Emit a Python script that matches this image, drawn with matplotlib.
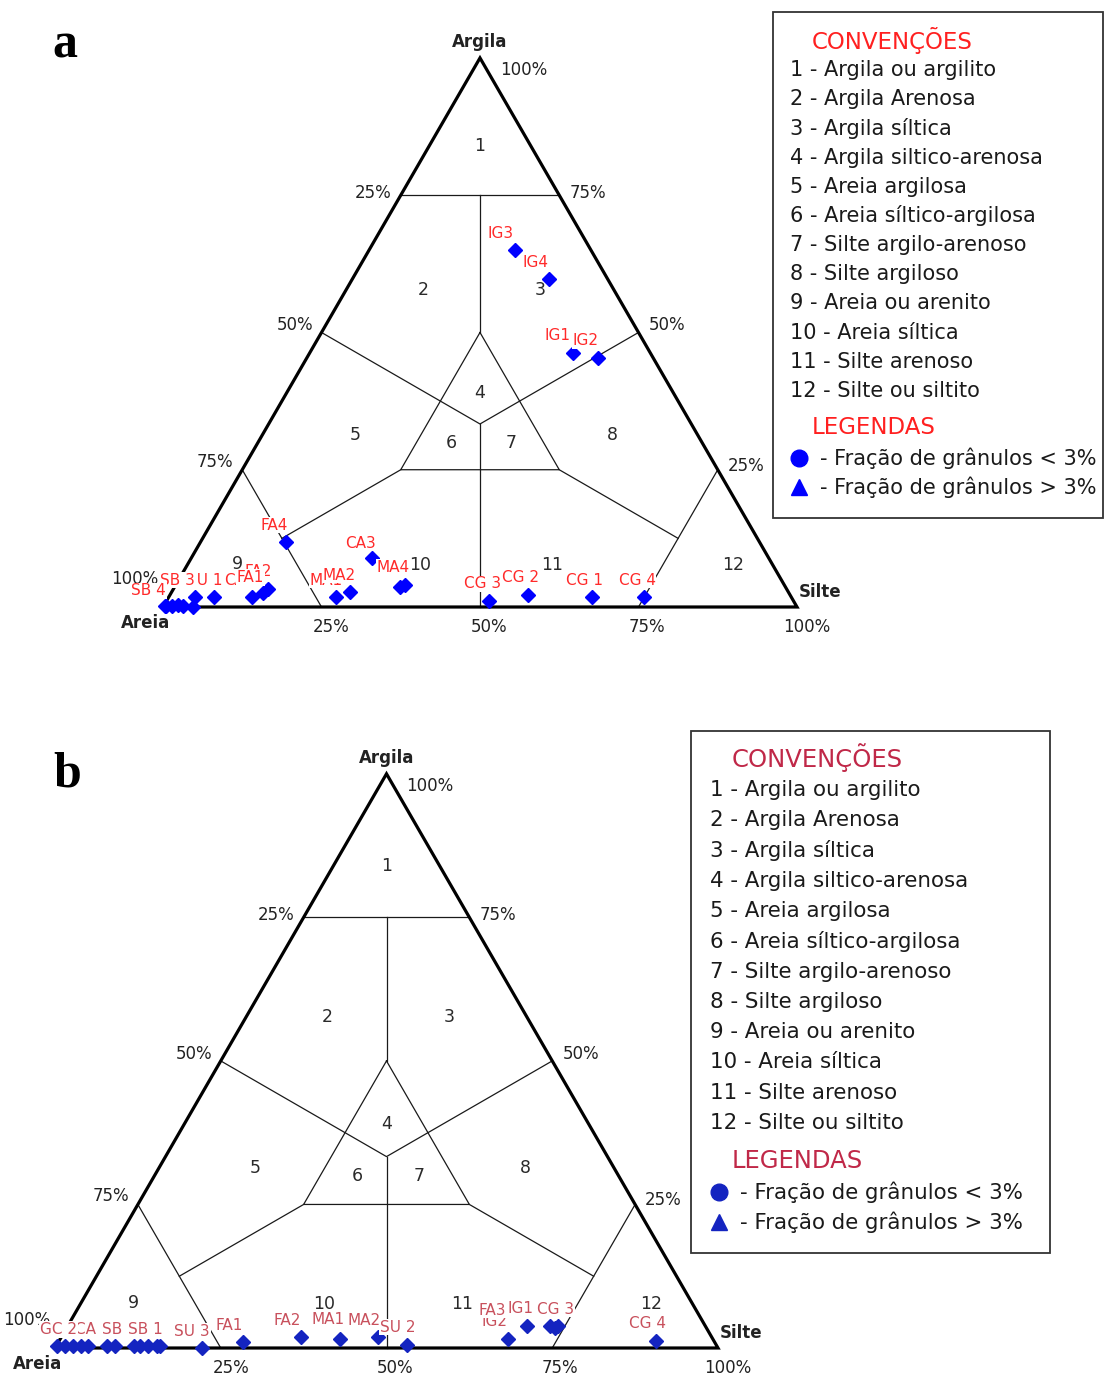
import numpy as np
import matplotlib.pyplot as plt
from matplotlib.lines import Line2D
from matplotlib.patches import Rectangle

W, H = 1105, 1376
fig = plt.figure(figsize=(W / 100, H / 100), dpi=100)
plt.rcParams['font.family'] = ['DejaVu Sans']

# classes do diagrama de Shepard
classes = ["1 - Argila ou argilito", "2 - Argila Arenosa", "3 - Argila síltica",
           "4 - Argila siltico-arenosa", "5 - Areia argilosa", "6 - Areia síltico-argilosa",
           "7 - Silte argilo-arenoso", "8 - Silte argiloso", "9 - Areia ou arenito",
           "10 - Areia síltica", "11 - Silte arenoso", "12 - Silte ou siltito"]
legendas = ["- Fração de grânulos < 3%", "- Fração de grânulos > 3%"]

# amostras (a): argila %, silte %  (areia = resto)
nomes_a = ["", "", "", "", "", "SU 1", "SB 3", "SB 4", "CA1", "FA2", "FA1", "FA4",
           "MA1", "MA2", "CA3", "", "MA4", "CG 2", "CG 3", "CG 1", "CG 4",
           "IG3", "IG4", "IG1", "IG2"]
argila_a = [0.2, 0.4, 0.2, 0.0, 0.2, 1.8, 1.8, 0.2, 1.8, 3.3, 2.6, 11.8,
            1.8, 2.7, 8.9, 3.6, 4.0, 2.2, 1.1, 1.8, 1.8,
            65.0, 59.7, 46.3, 45.4]
silte_a = [1.3, 2.2, 3.1, 4.7, 0.2, 7.1, 4.1, 0.3, 13.1, 14.9, 14.5, 13.5,
           26.4, 28.2, 28.5, 35.6, 36.2, 56.5, 50.9, 66.8, 75.0,
           23.0, 31.0, 41.5, 45.9]

# amostras (b)
nomes_b = ["", "", "", "", "", "CA 1", "SB 2", "", "", "SB 1", "", "GC 2", "SU 3",
           "FA1", "FA2", "MA1", "MA2", "SU 2", "IG2", "FA3", "IG1", "", "CG 3", "CG 4"]
argila_b = [0.3, 0.3, 0.3, 0.3, 0.3, 0.3, 0.3, 0.3, 0.3, 0.3, 0.3, 0.3, 0.0,
            1.0, 1.9, 1.6, 1.9, 0.5, 1.6, 3.8, 3.8, 3.5, 3.8, 1.2]
silte_b = [0.2, 1.4, 3.7, 4.9, 8.9, 7.7, 11.7, 12.7, 13.9, 15.3, 15.7, 2.5, 22.2,
           27.9, 36.1, 42.2, 47.7, 52.8, 67.5, 69.3, 72.8, 73.6, 74.0, 90.0]

# zonas: argila, silte do centro do numero
zonas = ["1", "2", "3", "4", "5", "6", "7", "8", "9", "10", "11", "12"]
zona_argila = [84, 57.7, 57.7, 39, 31.3, 29.9, 29.9, 31.3, 7.8, 7.7, 7.7, 7.7]
zona_silte = [8, 12.2, 30.6, 30.5, 14.6, 30.6, 39.9, 55.3, 7.9, 36.7, 57.6, 86.1]

# limites das classes (argila, silte)
c3 = 100 / 3
linhas = [[(75, 0), (75, 25)],
          [(75, 12.5), (50, 25)],
          [(50, 25), (25, 25), (25, 50), (50, 25)],
          [(50, 0), (c3, c3), (50, 50)],
          [(c3, c3), (0, 50)],
          [(25, 25), (12.5, 12.5)],
          [(25, 50), (12.5, 75)],
          [(25, 0), (0, 25)],
          [(25, 75), (0, 75)]]


def tern(argila, silte):
    argila = np.asarray(argila, float)
    silte = np.asarray(silte, float)
    return silte + argila / 2, argila * np.sqrt(3) / 2


def painel(Lx, Ly, lado, caixa):
    s = lado / 100
    x0, y0, x1, y1 = caixa
    ax = fig.add_axes([x0 / W, 1 - y1 / H, (x1 - x0) / W, (y1 - y0) / H])
    ax.set_xlim((x0 - Lx) / s, (x1 - Lx) / s)
    ax.set_ylim((Ly - y1) / s, (Ly - y0) / s)
    ax.axis('off')
    return ax


rotulos_borda = [("Argila", 100, 0, 0, 16, 'center', 'bold'),
                 ("100%", 100, 0, 20, -12, 'left', 'normal'),
                 ("25%", 75, 0, -9, 2, 'right', 'normal'),
                 ("50%", 50, 0, -8, 7, 'right', 'normal'),
                 ("75%", 25, 0, -9, 8, 'right', 'normal'),
                 ("75%", 75, 25, 10, 2, 'left', 'normal'),
                 ("50%", 50, 50, 10, 7, 'left', 'normal'),
                 ("25%", 25, 75, 10, 4, 'left', 'normal'),
                 ("Silte", 0, 100, 2, 15, 'left', 'bold'),
                 ("Areia", 0, 0, -17, -16, 'center', 'bold'),
                 ("25%", 0, 25, 10, -20, 'center', 'normal'),
                 ("50%", 0, 50, 9, -20, 'center', 'normal'),
                 ("75%", 0, 75, 8, -20, 'center', 'normal'),
                 ("100%", 0, 100, 10, -20, 'center', 'normal')]


def desenha(ax, argila, silte, nomes, offs, cor_txt, cor_pt):
    for ln in linhas:
        xs, ys = tern([p[0] for p in ln], [p[1] for p in ln])
        ax.plot(xs, ys, color='#1a1a1a', lw=0.9, zorder=1)
    xs, ys = tern([0, 100, 0, 0], [0, 0, 100, 0])
    ax.plot(xs, ys, color='black', lw=2.3, zorder=2, solid_joinstyle='miter')
    for t, c, s, dx, dy, ha, fw in rotulos_borda:
        ax.annotate(t, tern(c, s), xytext=(dx * 0.72, dy * 0.72), textcoords='offset points',
                    ha=ha, va='center', fontsize=12, fontweight=fw, color='#222222')
    # 100% da areia fica por baixo dos rotulos
    ax.annotate("100%", tern(0, 0), xytext=(-28 * 0.72, 28 * 0.72), textcoords='offset points',
                ha='center', va='center', fontsize=12, color='#222222', zorder=3)
    zx, zy = tern(zona_argila, zona_silte)
    for z, x, y in zip(zonas, zx, zy):
        ax.text(x, y, z, ha='center', va='center', fontsize=12.5, color='#2a2a2a', zorder=3)
    px, py = tern(argila, silte)
    k = 4
    for nome, x, y, (dx, dy) in zip(nomes, px, py, offs):
        ax.plot(x, y, 'D', color=cor_pt, ms=7, mec=cor_pt, zorder=k)
        k += 1
        if nome:
            ax.annotate(nome, (x, y), xytext=(dx * 0.72, dy * 0.72), textcoords='offset points',
                        ha='center', va='center', fontsize=11, color=cor_txt, zorder=k,
                        bbox=dict(facecolor='white', edgecolor='none', pad=0.6))
            k += 1


offs_a = [(0, 0)] * 5 + [(-9, 17), (-17, 17), (-17, 15), (-12, 17), (-10, 17), (-13, 15),
                         (-12, 17), (-10, 17), (-11, 17), (-11, 15), (0, 0), (-12, 18),
                         (-8, 17), (-7, 17), (-8, 17), (-7, 17),
                         (-14, 17), (-13, 17), (-15, 17), (-12, 17)]
offs_b = [(0, 0)] * 5 + [(-14, 17), (-14, 17), (0, 0), (0, 0), (-12, 17), (0, 0),
                         (-14, 17), (-10, 17), (-14, 17), (-13, 17), (-12, 19), (-13, 17),
                         (-9, 18), (-13, 17), (-35, 16), (-30, 18), (0, 0), (-3, 17),
                         (-8, 18)]

ax_a = painel(163, 607, 634, (0, 0, 860, 690))
desenha(ax_a, argila_a, silte_a, nomes_a, offs_a, '#ff2a2a', '#0000ff')
ax_b = painel(55, 1348, 663, (0, 700, 780, 1376))
desenha(ax_b, argila_b, silte_b, nomes_b, offs_b, '#c8505c', '#1424c0')


def fx(x):
    return x / W


def fy(y):
    return 1 - y / H


def legenda(caixa, x_item, y_tit, y_1, passo, y_leg, y_s1, passo_s, cor_tit, cor_pt, fs, fs_tit):
    x0, y0, x1, y1 = caixa
    fig.add_artist(Rectangle((fx(x0), fy(y1)), fx(x1 - x0), (y1 - y0) / H, fill=False,
                             ec='#333333', lw=1.3, transform=fig.transFigure))
    fig.text(fx(x_item + 22), fy(y_tit), "CONVENÇÕES", color=cor_tit, fontsize=fs_tit,
             va='center', ha='left')
    for i, c in enumerate(classes):
        fig.text(fx(x_item), fy(y_1 + i * passo), c, color='#1a1a1a', fontsize=fs,
                 va='center', ha='left')
    fig.text(fx(x_item + 22), fy(y_leg), "LEGENDAS", color=cor_tit, fontsize=fs_tit,
             va='center', ha='left')
    for i, (m, t) in enumerate(zip(['o', '^'], legendas)):
        yy = fy(y_s1 + i * passo_s)
        fig.add_artist(Line2D([fx(x_item + 9)], [yy], marker=m, ms=12, color=cor_pt,
                              mec=cor_pt, transform=fig.transFigure))
        fig.text(fx(x_item + 30), yy, t, color='#1a1a1a', fontsize=fs, va='center', ha='left')


legenda((773, 12, 1103, 518), 790, 40, 70, 29.18, 428, 458, 29, '#ff2020', '#0000ff', 15, 16.5)
legenda((691, 731, 1050, 1253), 710, 758, 790, 30.27, 1161, 1192, 30, '#c02848', '#1424c0',
        15.4, 17.5)

fig.text(fx(65), fy(45), "a", fontsize=36, fontweight='bold', family='Liberation Serif',
         ha='center', va='center')
fig.text(fx(67), fy(775), "b", fontsize=36, fontweight='bold', family='Liberation Serif',
         ha='center', va='center')

fig.savefig("out.png", dpi=100, facecolor='white')
